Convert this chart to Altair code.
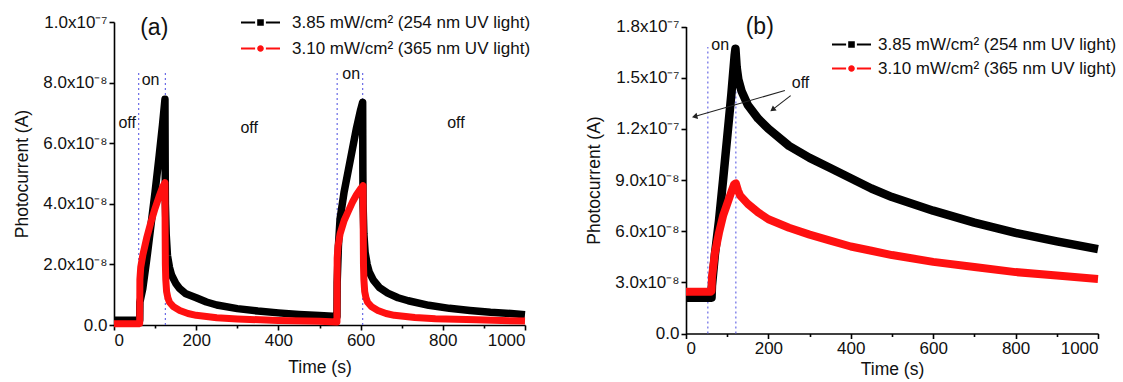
import altair as alt
import pandas as pd

FONT = "Liberation Sans"
SERIES = ["3.85 mW/cm\u00b2 (254 nm UV light)", "3.10 mW/cm\u00b2 (365 nm UV light)"]
COLORS = ["#000000", "#ff1010"]

# ---------------- panel (a): values in nA (1e-9 A) ----------------
A_BLACK_T = [0, 20, 40, 60, 62.5, 63, 70, 80, 90, 100, 110, 118, 124,
             124.5, 125, 127, 130, 135, 140, 150, 160, 175, 200, 225, 250, 300, 350, 400, 450, 500, 542.5,
             543, 546, 550, 560, 570, 580, 590, 600, 605,
             605.5, 606, 608, 611, 616, 621, 631, 646, 666, 691, 716, 766, 816, 866, 916, 966, 1000]
A_BLACK_NA = [1.6, 1.6, 1.6, 1.6, 1.6, 7.5, 12, 22, 33, 44, 56, 66, 74.5,
              54, 40, 30, 23, 19, 16.5, 13.8, 12, 10.3, 9.0, 7.6, 6.6, 5.4, 4.6, 4.0, 3.5, 3.1, 2.8,
              14, 26, 35, 44, 51, 58, 65, 71, 73.5,
              51, 40, 30, 24, 20, 17.5, 14.8, 12.3, 10.5, 9.0, 8.0, 6.5, 5.5, 4.8, 4.2, 3.8, 3.4]

A_RED_T = [0, 30, 60, 62.5, 63, 65, 70, 80, 90, 100, 110, 118, 124,
           124.5, 125, 126, 128, 131, 135, 145, 160, 180, 200, 250, 300, 400, 500, 542.5,
           543, 545, 550, 560, 570, 580, 590, 600, 606,
           606.5, 607, 608, 610, 613, 617, 627, 642, 662, 682, 732, 782, 882, 1000]
A_RED_NA = [0.4, 0.4, 0.4, 0.5, 15, 19, 23, 29, 34, 38.5, 42.5, 45.5, 47,
            30, 20, 15, 11, 9, 7.5, 6.0, 4.8, 3.8, 3.2, 2.4, 2.0, 1.5, 1.2, 1.0,
            22, 26, 30, 34.5, 37.5, 40.5, 43, 45, 46,
            30, 20, 15, 11, 9, 7.5, 6.0, 4.8, 3.8, 3.2, 2.5, 2.1, 1.7, 1.3]

# ---------------- panel (b): values in units of 1e-8 A ----------------
B_BLACK_T = [0, 30, 55, 62, 63, 70, 80, 90, 100, 110, 118, 120, 123, 127, 135, 150, 175, 200,
             250, 300, 350, 400, 450, 500, 600, 700, 800, 900, 1000]
B_BLACK_V = [2.1, 2.1, 2.1, 2.1, 2.8, 4.6, 6.6, 9.0, 11.5, 14.0, 16.3, 16.7, 15.6, 14.9, 14.2, 13.4, 12.6, 12.0,
             11.0, 10.3, 9.7, 9.1, 8.5, 8.0, 7.2, 6.5, 5.9, 5.4, 4.95]
B_RED_T = [0, 30, 60, 62, 63, 70, 80, 90, 100, 110, 117, 121, 126, 131, 150, 175, 200,
           250, 300, 350, 400, 450, 500, 600, 700, 800, 900, 1000]
B_RED_V = [2.45, 2.45, 2.45, 2.5, 3.3, 4.7, 5.9, 6.9, 7.6, 8.3, 8.75, 8.8, 8.4, 8.1, 7.6, 7.1, 6.7,
           6.2, 5.8, 5.45, 5.1, 4.85, 4.6, 4.2, 3.9, 3.6, 3.4, 3.2]

# ---------------- annotations ----------------
A_VLINE_T = [60, 125, 543, 605]
A_VLINE_TOP = 84e-9
B_VLINE_T = [53, 121]
B_VLINE_TOP = 1.68e-7

A_TEXT = ["(a)", "off", "on", "off", "on", "off"]
A_TEXT_T = [98, 32, 89, 329, 577, 832]
A_TEXT_V = [98e-9, 66.8e-9, 81e-9, 65e-9, 82.7e-9, 66.8e-9]
A_TEXT_SIZE = [23, 16, 16, 16, 16, 16]

B_TEXT = ["(b)", "on", "off"]
B_TEXT_T = [179, 83, 278]
B_TEXT_V = [1.8e-7, 1.69e-7, 1.47e-7]
B_TEXT_SIZE = [23, 16, 16]

B_ARROW_T0 = [240, 254]
B_ARROW_V0 = [1.425e-7, 1.395e-7]
B_ARROW_T1 = [21, 210]
B_ARROW_V1 = [1.272e-7, 1.313e-7]
B_ARROW_ANGLE = [346, 324]

X_TICKS = [0, 100, 200, 300, 400, 500, 600, 700, 800, 900, 1000]
X_LABELS = ["0", "", "200", "", "400", "", "600", "", "800", "", "1000"]
A_Y_TICKS = [0, 1e-8, 2e-8, 3e-8, 4e-8, 5e-8, 6e-8, 7e-8, 8e-8, 9e-8, 1e-7]
A_Y_LABELS = ["0.0", "", "2.0x10\u207b\u2078", "", "4.0x10\u207b\u2078", "", "6.0x10\u207b\u2078", "",
              "8.0x10\u207b\u2078", "", "1.0x10\u207b\u2077"]
B_Y_TICKS = [0, 1.5e-8, 3e-8, 4.5e-8, 6e-8, 7.5e-8, 9e-8, 1.05e-7, 1.2e-7, 1.35e-7, 1.5e-7, 1.65e-7, 1.8e-7]
B_Y_LABELS = ["0.0", "", "3.0x10\u207b\u2078", "", "6.0x10\u207b\u2078", "", "9.0x10\u207b\u2078", "",
              "1.2x10\u207b\u2077", "", "1.5x10\u207b\u2077", "", "1.8x10\u207b\u2077"]

SYM_SQUARE = ("M-3.25,-0.17H-0.9V0.17H-3.25Z M0.9,-0.17H3.25V0.17H0.9Z "
              "M-0.55,-0.55H0.55V0.55H-0.55Z")
SYM_CIRCLE = ("M-3.25,-0.17H-0.9V0.17H-3.25Z M0.9,-0.17H3.25V0.17H0.9Z "
              "M-0.55,0A0.55,0.55 0 1,0 0.55,0A0.55,0.55 0 1,0 -0.55,0Z")


def label_expr(vals, labs, tol):
    expr = "''"
    for v, l in reversed(list(zip(vals, labs))):
        expr = f"abs(datum.value - {v!r}) < {tol} ? '{l}' : ({expr})"
    return expr


def minor_test(vals, labs, tol):
    majors = [v for v, l in zip(vals, labs) if l]
    return " || ".join(f"abs(datum.value - {v!r}) < {tol}" for v in majors)


def series_df(t, v, name, scale):
    return pd.DataFrame({"t": t, "y": [x * scale for x in v], "series": name})


def panel(black, red, width, height, y_domain, y_ticks, y_labels, y_tol, y_range,
          vline_t, vline_top, texts, arrows, legend_xy, label_offset, row_pad, widths, x_title_pad):
    data = pd.concat([black, red], ignore_index=True)
    x_enc = alt.X("t:Q", scale=alt.Scale(domain=[0, 1000], nice=False, zero=False),
                  axis=alt.Axis(values=X_TICKS, labelExpr=label_expr(X_TICKS, X_LABELS, 0.5),
                                title="Time (s)", titlePadding=x_title_pad,
                                tickSize={"condition": {"test": minor_test(X_TICKS, X_LABELS, 0.5), "value": 5}, "value": 3}))
    if y_range is not None:
        y_scale = alt.Scale(domain=y_domain, nice=False, zero=False, range=y_range)
    else:
        y_scale = alt.Scale(domain=y_domain, nice=False, zero=False)
    y_enc = alt.Y("y:Q", scale=y_scale,
                  axis=alt.Axis(values=y_ticks, labelExpr=label_expr(y_ticks, y_labels, y_tol),
                                title="Photocurrent (A)",
                                tickSize={"condition": {"test": minor_test(y_ticks, y_labels, y_tol), "value": 5}, "value": 3}))

    vdf = pd.DataFrame({"t": vline_t, "y0": 0.0, "y1": vline_top})
    vlines = alt.Chart(vdf).mark_rule(color="#6a6ae6", strokeWidth=1.2, strokeDash=[2, 3]).encode(
        x=alt.X("t:Q"), y=alt.Y("y0:Q"), y2="y1:Q")

    line_b = alt.Chart(black).mark_line(color=COLORS[0], strokeWidth=widths[0], strokeJoin="round").encode(
        x=x_enc, y=y_enc)
    line_r = alt.Chart(red).mark_line(color=COLORS[1], strokeWidth=widths[1], strokeJoin="round").encode(
        x="t:Q", y="y:Q")

    leg = alt.Legend(title=None, orient="none", legendX=legend_xy[0], legendY=legend_xy[1],
                     symbolSize=144, symbolOpacity=1, symbolStrokeWidth=0,
                     labelFont=FONT, labelFontSize=17, labelColor="#111", labelLimit=400,
                     labelOffset=label_offset, rowPadding=row_pad, padding=0)
    pts = alt.Chart(data).mark_point(filled=True, opacity=0).encode(
        x="t:Q", y="y:Q",
        color=alt.Color("series:N", scale=alt.Scale(domain=SERIES, range=COLORS), legend=leg),
        shape=alt.Shape("series:N", scale=alt.Scale(domain=SERIES, range=[SYM_SQUARE, SYM_CIRCLE]), legend=leg))

    tdf = pd.DataFrame({"label": texts[0], "t": texts[1], "y": texts[2], "size": texts[3]})
    txt = alt.Chart(tdf).mark_text(font=FONT, color="#111", baseline="middle", align="center").encode(
        x="t:Q", y="y:Q", text="label:N", size=alt.Size("size:Q", scale=None, legend=None))

    layers = [vlines, line_b, line_r, pts, txt]
    if arrows is not None:
        adf = pd.DataFrame({"t0": arrows[0], "y0": arrows[1], "t1": arrows[2], "y1": arrows[3],
                            "ang": arrows[4]})
        seg = alt.Chart(adf).mark_rule(color="#222", strokeWidth=1.1).encode(
            x="t0:Q", y="y0:Q", x2="t1:Q", y2="y1:Q")
        head = alt.Chart(adf).mark_point(shape="triangle-left", filled=True, color="#222", size=40,
                                         opacity=1).encode(
            x="t1:Q", y="y1:Q", angle=alt.Angle("ang:Q", scale=None))
        layers += [seg, head]
    return alt.layer(*layers).properties(width=width, height=height)


a_black = series_df(A_BLACK_T, A_BLACK_NA, SERIES[0], 1e-9)
a_red = series_df(A_RED_T, A_RED_NA, SERIES[1], 1e-9)
b_black = series_df(B_BLACK_T, B_BLACK_V, SERIES[0], 1e-8)
b_red = series_df(B_RED_T, B_RED_V, SERIES[1], 1e-8)

pa = panel(a_black, a_red, 411, 303, [0, 1e-7], A_Y_TICKS, A_Y_LABELS, 1e-11, None,
           A_VLINE_T, A_VLINE_TOP, (A_TEXT, A_TEXT_T, A_TEXT_V, A_TEXT_SIZE), None,
           (138, -8), 23, 8, (7.5, 7), 10)
pb = panel(b_black, b_red, 412, 311.5, [0, 1.8e-7], B_Y_TICKS, B_Y_LABELS, 1e-11, [311.5, 4.5],
           B_VLINE_T, B_VLINE_TOP, (B_TEXT, B_TEXT_T, B_TEXT_V, B_TEXT_SIZE),
           (B_ARROW_T0, B_ARROW_V0, B_ARROW_T1, B_ARROW_V1, B_ARROW_ANGLE),
           (157, 14), 18, 6, (8.5, 8), 4)

chart = alt.hconcat(pa, pb, spacing=161, bounds="flush").resolve_scale(
    color="independent", shape="independent"
).resolve_legend(color="independent", shape="independent").properties(
    padding={"left": 13, "top": 13, "right": 5, "bottom": 5},
    background="#ffffff",
).configure_view(stroke=None).configure_axis(
    domainColor="#000", domainWidth=1.6, tickColor="#000", tickWidth=1.6,
    labelFont=FONT, labelFontSize=17, labelColor="#111", labelPadding=2,
    titleFont=FONT, titleFontSize=17.5, titleFontWeight="normal", titleColor="#111",
    grid=False,
).configure_axisY(titlePadding=11)

chart.save("out.html", embed_options={"renderer": "svg", "actions": False})
